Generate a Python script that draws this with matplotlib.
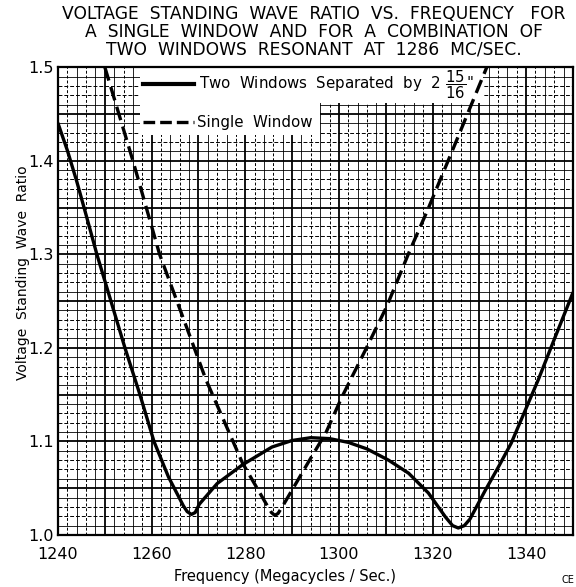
import matplotlib
matplotlib.use("Agg")
import matplotlib.pyplot as plt
import numpy as np
from matplotlib.patches import Rectangle

# ---- data ----
two_win_freq = [1240, 1242.0, 1244.0, 1246.0, 1248.3, 1251.3, 1254.3, 1257.5, 1260.5,
                1263.6, 1266.8, 1267.6, 1268.5, 1269.3, 1270.2, 1274.0, 1279.4, 1285.7,
                1290.0, 1294.0, 1298.0, 1302.0, 1306.0, 1310.6, 1314.9, 1319.1, 1322.8,
                1324.3, 1325.5, 1326.8, 1328.0, 1331.3, 1334.0, 1336.8, 1342.6, 1346.0,
                1350.0]
two_win_vswr = [1.440, 1.411, 1.378, 1.342, 1.300, 1.250, 1.200, 1.150, 1.100,
                1.062, 1.031, 1.025, 1.022, 1.024, 1.033, 1.055, 1.075, 1.094,
                1.101, 1.104, 1.103, 1.099, 1.092, 1.080, 1.066, 1.045, 1.019,
                1.010, 1.0075, 1.010, 1.017, 1.048, 1.072, 1.098, 1.166, 1.209,
                1.259]

single_freq = [1250.0, 1256.0, 1261.7, 1269.1, 1271.6, 1279.4, 1284.5, 1285.6, 1286.3,
               1287.0, 1288.0, 1290.0, 1293.5, 1297.2, 1300.6, 1305.7, 1310.2, 1314.9,
               1319.1, 1325.0, 1331.6]
single_vswr = [1.500, 1.400, 1.300, 1.200, 1.166, 1.077, 1.033, 1.024, 1.021,
               1.023, 1.031, 1.048, 1.078, 1.109, 1.147, 1.198, 1.244, 1.301,
               1.349, 1.420, 1.500]

x_ticks = [1240, 1260, 1280, 1300, 1320, 1340]
y_ticks = [1.0, 1.1, 1.2, 1.3, 1.4, 1.5]
y_tick_labels = ["1.0", "1.1", "1.2", "1.3", "1.4", "1.5"]

title_lines = ["VOLTAGE  STANDING  WAVE  RATIO  VS.  FREQUENCY   FOR",
               "A  SINGLE  WINDOW  AND  FOR  A  COMBINATION  OF",
               "TWO  WINDOWS  RESONANT  AT  1286  MC/SEC."]

# ---- figure ----
fig = plt.figure(figsize=(5.76, 5.87), dpi=100)
ax = fig.add_axes([0.1007, 0.0886, 0.894, 0.797])
ax.set_xlim(1240, 1350)
ax.set_ylim(1.0, 1.5)

# graph-paper grid
for i, xv in enumerate(np.arange(1240, 1351, 2)):
    if xv % 10 == 0:
        ax.axvline(xv, color="black", lw=1.3, zorder=1)
    elif i % 2 == 0:
        ax.axvline(xv, color="black", lw=0.6, zorder=1)
    else:
        ax.axvline(xv, color="black", lw=0.7, ls=(0, (3, 2)), zorder=1)
for j, yv in enumerate(np.round(np.arange(1.0, 1.5001, 0.01), 3)):
    if abs(yv * 20 - round(yv * 20)) < 1e-6:
        ax.axhline(yv, color="black", lw=1.3, zorder=1)
    elif j % 5 in (2, 3):
        ax.axhline(yv, color="black", lw=0.7, ls=(0, (4, 2)), zorder=1)
    else:
        ax.axhline(yv, color="black", lw=0.6, zorder=1)

# white legend area (L-shaped)
ax.add_patch(Rectangle((0.159, 0.923), 0.666, 0.077, transform=ax.transAxes,
                       facecolor="white", edgecolor="none", zorder=2))
ax.add_patch(Rectangle((0.159, 0.855), 0.350, 0.070, transform=ax.transAxes,
                       facecolor="white", edgecolor="none", zorder=2))

# curves
ax.plot(two_win_freq, two_win_vswr, color="black", lw=2.4, zorder=4,
        solid_joinstyle="round", solid_capstyle="round")
ax.plot(single_freq, single_vswr, color="black", lw=2.4, zorder=4,
        dashes=(4.2, 2.0))

# legend drawn by hand
ax.plot([0.165, 0.265], [0.963, 0.963], transform=ax.transAxes, color="black",
        lw=3, zorder=5)
ax.text(0.274, 0.963, 'Two  Windows  Separated  by  2 $\\dfrac{15}{16}$"',
        transform=ax.transAxes, fontsize=10.8, va="center", ha="left", zorder=5)
ax.plot([0.165, 0.265], [0.882, 0.882], transform=ax.transAxes, color="black",
        lw=2.4, dashes=(3.5, 1.5), zorder=5)
ax.text(0.270, 0.882, "Single  Window", transform=ax.transAxes, fontsize=10.8,
        va="center", ha="left", zorder=5)

# axes, ticks
for s in ax.spines.values():
    s.set_linewidth(1.6)
    s.set_zorder(3)
ax.set_xticks(x_ticks)
ax.set_xticklabels([str(v) for v in x_ticks], fontsize=11.5)
ax.set_yticks(y_ticks)
ax.set_yticklabels(y_tick_labels, fontsize=11.5)
ax.tick_params(axis="x", length=0, pad=9)
ax.tick_params(axis="y", length=0, pad=3)
ax.set_xlabel("Frequency (Megacycles / Sec.)", fontsize=10.5)
ax.set_ylabel("Voltage  Standing  Wave  Ratio", fontsize=10)
ax.yaxis.set_label_coords(-0.054, 0.56)
ax.xaxis.set_label_coords(0.44, -0.073)

# title
for line, yy in zip(title_lines, [0.976, 0.946, 0.915]):
    fig.text(0.545, yy, line, fontsize=12.3, ha="center", va="center")

fig.text(0.975, 0.003, "CE", fontsize=7, ha="left", va="bottom")

fig.savefig("out.png", dpi=100)
